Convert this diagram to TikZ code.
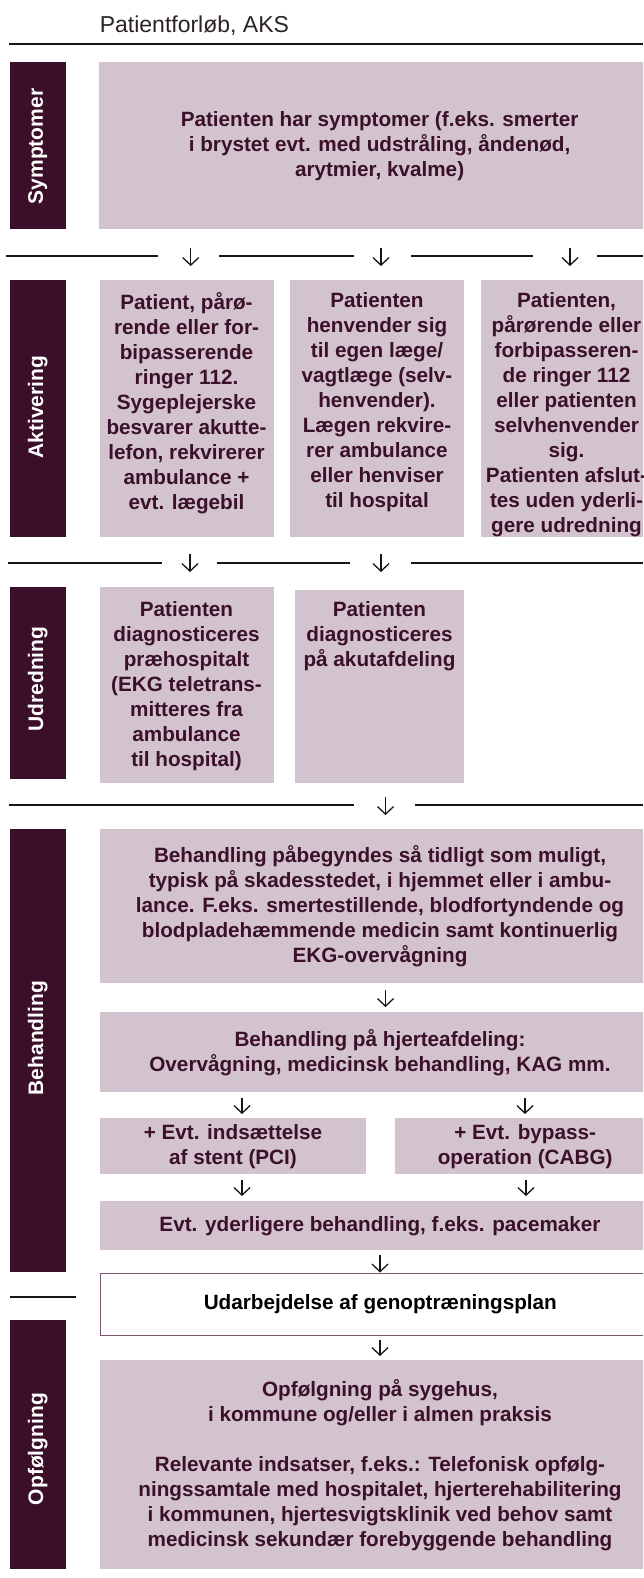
\documentclass[tikz,border=0pt]{standalone}
\usepackage{fontspec}
\setmainfont{Liberation Sans}
\usetikzlibrary{arrows.meta}
\definecolor{plum}{HTML}{3B0F29}
\definecolor{boxfill}{HTML}{D3C3CE}
\definecolor{txtplum}{HTML}{3B1029}
\definecolor{edgeplum}{HTML}{7D5370}
\definecolor{rulecol}{HTML}{161616}
\definecolor{titlecol}{HTML}{2A2226}
\begin{document}
\begin{tikzpicture}[x=1pt,y=-1pt,
  bar/.style={fill=plum, draw=none, inner sep=0, anchor=north west},
  box/.style={fill=boxfill, draw=none, inner sep=0, anchor=north west,
    font=\fontsize{20.7}{25}\selectfont\bfseries, text=txtplum, align=center},
  txt/.style={font=\fontsize{20.7}{25}\selectfont\bfseries, text=txtplum, align=center, inner sep=0},
  lbl/.style={font=\fontsize{21}{25}\selectfont\bfseries, text=white, rotate=90, inner sep=0},
  sep/.style={draw=rulecol, line width=1.5pt},
  arr/.style={draw=rulecol, line width=1.3pt, -{Straight Barb[length=7.5pt,width=16pt]}}
]
\useasboundingbox (0,0) rectangle (643,1578);
\begin{scope}
\clip (0,0) rectangle (643,1578);

% title and top rule
\node[anchor=base west, font=\fontsize{23}{28}\selectfont, text=titlecol, inner sep=0] (title) at (99.6,32.3) {Patientforløb, AKS};
\draw[draw=rulecol, line width=2pt] (9,43.7) -- (643,43.7);

% ---- Symptomer
\node[bar, minimum width=55.8, minimum height=167] (barS) at (9.8,62) {};
\node[lbl] (lblS) at (37.7,146.5) {Symptomer};
\node[box, minimum width=562, minimum height=167] (sym) at (98.4,62)
  {Patienten har symptomer (f.eks. smerter\\ i brystet evt. med udstråling, åndenød,\\ arytmier, kvalme)};

% separator 1
\draw[sep] (6,256) -- (158,256);
\draw[sep] (219,256) -- (353.5,256);
\draw[sep] (411,256) -- (533,256);
\draw[sep] (597,256) -- (643,256);
\coordinate (s1a) at (190.7,248); \coordinate (s1ae) at (190.7,266);
\coordinate (s1b) at (381,248);   \coordinate (s1be) at (381,266);
\coordinate (s1c) at (570,248);   \coordinate (s1ce) at (570,266);
\draw[arr] (s1a) -- (s1ae);
\draw[arr] (s1b) -- (s1be);
\draw[arr] (s1c) -- (s1ce);

% ---- Aktivering
\node[bar, minimum width=55.8, minimum height=257] (barA) at (9.8,280) {};
\node[lbl] (lblA) at (37.7,407) {Aktivering};
\node[box, minimum width=173.9, minimum height=257] (ak1) at (99.6,280) {};
\node[box, minimum width=173.8, minimum height=257] (ak2) at (290,280) {};
\node[box, minimum width=174.4, minimum height=257] (ak3) at (480.6,280) {};
\node[txt, anchor=north] (ak1t) at (186.5,292)
  {Patient, pårø-\\rende eller for-\\bipasserende\\ringer 112.\\Sygeplejerske\\besvarer akutte-\\lefon, rekvirerer\\ambulance +\\evt. lægebil};
\node[txt, anchor=north] (ak2t) at (377,292)
  {Patienten\\henvender sig\\til egen læge/\\vagtlæge (selv-\\henvender).\\Lægen rekvire-\\rer ambulance\\eller henviser\\til hospital};
\node[txt, anchor=north] (ak3t) at (566.5,292)
  {Patienten,\\pårørende eller\\forbipasseren-\\de ringer 112\\eller patienten\\selvhenvender\\sig.\\Patienten afslut-\\tes uden yderli-\\gere udredning};

% separator 2
\draw[sep] (8,563) -- (162,563);
\draw[sep] (217,563) -- (350,563);
\draw[sep] (411,563) -- (643,563);
\coordinate (s2a) at (190,554); \coordinate (s2ae) at (190,572);
\coordinate (s2b) at (381,554); \coordinate (s2be) at (381,572);
\draw[arr] (s2a) -- (s2ae);
\draw[arr] (s2b) -- (s2be);

% ---- Udredning
\node[bar, minimum width=55.8, minimum height=192] (barU) at (9.8,587) {};
\node[lbl] (lblU) at (37.7,679) {Udredning};
\node[box, minimum width=173.9, minimum height=196] (ud1) at (99.6,587) {};
\node[box, minimum width=169, minimum height=193] (ud2) at (295,590) {};
\node[txt, anchor=north] (ud1t) at (186.5,601)
  {Patienten\\diagnosticeres\\præhospitalt\\(EKG teletrans-\\mitteres fra\\ambulance\\til hospital)};
\node[txt, anchor=north] (ud2t) at (379.5,601)
  {Patienten\\diagnosticeres\\på akutafdeling};

% separator 3
\draw[sep] (9.4,805) -- (353.5,805);
\draw[sep] (415,805) -- (643,805);
\coordinate (s3a) at (385.5,797); \coordinate (s3ae) at (385.5,815);
\draw[arr] (s3a) -- (s3ae);

% ---- Behandling
\node[bar, minimum width=55.8, minimum height=443] (barB) at (9.8,829) {};
\node[lbl] (lblB) at (37.7,1038) {Behandling};
\node[box, minimum width=560.4, minimum height=154] (b1) at (99.6,829)
  {Behandling påbegyndes så tidligt som muligt,\\typisk på skadesstedet, i hjemmet eller i ambu-\\lance. F.eks. smertestillende, blodfortyndende og\\blodpladehæmmende medicin samt kontinuerlig\\EKG-overvågning};
\coordinate (b12) at (385.5,990); \coordinate (b12e) at (385.5,1007);
\draw[arr] (b12) -- (b12e);
\node[box, minimum width=560.4, minimum height=80] (b2) at (99.6,1012)
  {Behandling på hjerteafdeling:\\Overvågning, medicinsk behandling, KAG mm.};
\coordinate (b2p) at (242,1098); \coordinate (b2pe) at (242,1114);
\coordinate (b2c) at (525,1098); \coordinate (b2ce) at (525,1114);
\draw[arr] (b2p) -- (b2pe);
\draw[arr] (b2c) -- (b2ce);
\node[box, minimum width=266.4, minimum height=56] (pci) at (99.6,1118)
  {+ Evt. indsættelse\\af stent (PCI)};
\node[box, minimum width=260, minimum height=56] (cabg) at (395,1118)
  {+ Evt. bypass-\\operation (CABG)};
\coordinate (pe) at (242,1180); \coordinate (pee) at (242,1196);
\coordinate (ce) at (526,1180); \coordinate (cee) at (526,1196);
\draw[arr] (pe) -- (pee);
\draw[arr] (ce) -- (cee);
\node[box, minimum width=560.4, minimum height=49] (evt) at (99.6,1201)
  {Evt. yderligere behandling, f.eks. pacemaker};
\coordinate (eu) at (380,1255); \coordinate (eue) at (380,1272.5);
\draw[arr] (eu) -- (eue);

% ---- Udarbejdelse
\node[box, fill=white, draw=edgeplum, line width=1pt, text=black, minimum width=560.4, minimum height=62] (udarb) at (99.6,1273)
  {Udarbejdelse af genoptræningsplan};
\draw[sep] (9.8,1297) -- (76,1297);
\coordinate (uo) at (380,1340); \coordinate (uoe) at (380,1356);
\draw[arr] (uo) -- (uoe);

% ---- Opfølgning
\node[bar, minimum width=55.8, minimum height=249] (barO) at (9.8,1320) {};
\node[lbl] (lblO) at (37.7,1449) {Opfølgning};
\node[box, minimum width=560.4, minimum height=209] (opf) at (99.6,1360)
  {Opfølgning på sygehus,\\i kommune og/eller i almen praksis\\[25pt]Relevante indsatser, f.eks.: Telefonisk opfølg-\\ningssamtale med hospitalet, hjerterehabilitering\\i kommunen, hjertesvigtsklinik ved behov samt\\medicinsk sekundær forebyggende behandling};
\end{scope}
\end{tikzpicture}
\end{document}
